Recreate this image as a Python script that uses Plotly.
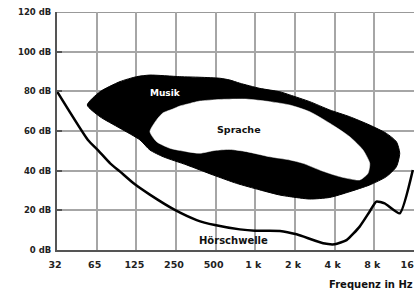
import plotly.graph_objects as go

# Axis ticks (octave index -> label)
x_ticks = [0, 1, 2, 3, 4, 5, 6, 7, 8, 9]
x_labels = ["32", "65", "125", "250", "500", "1 k", "2 k", "4 k", "8 k", "16 k"]
y_ticks = [0, 20, 40, 60, 80, 100, 120]
y_labels = ["0 dB", "20 dB", "40 dB", "60 dB", "80 dB", "100 dB", "120 dB"]

# Hörschwelle (threshold of hearing): octave index, dB
hs_x = [0.0, 0.78, 1.03, 1.34, 1.59, 1.93, 2.34, 2.97, 3.52, 3.98, 4.61, 4.99, 5.62, 6.04, 6.71, 7.0, 7.3, 7.63, 7.88, 8.05, 8.26, 8.64, 8.97]
hs_y = [80.0, 55.5, 50.4, 43.7, 39.5, 33.6, 27.9, 20.2, 15.1, 12.6, 10.4, 9.7, 9.6, 7.9, 3.4, 2.9, 5.0, 11.8, 19.3, 24.4, 23.5, 18.5, 40.3]

# Musik area (outer boundary)
mu_x = [0.763, 1.083, 1.587, 2.008, 2.343, 3.098, 3.602, 4.106, 4.358, 4.610, 5.113, 5.617, 5.869, 6.373, 6.877, 7.380, 7.884, 8.305, 8.557, 8.640, 8.557, 8.305, 7.884, 7.380, 6.877, 6.373, 5.869, 5.617, 5.113, 4.526, 3.937, 3.267, 2.678, 2.343, 2.091, 1.587, 1.083, 0.763]
mu_y = [73.1, 79.8, 84.9, 87.4, 88.2, 87.4, 87.1, 86.6, 85.7, 84.1, 81.5, 79.8, 78.2, 74.8, 70.6, 67.2, 63.0, 58.8, 54.6, 48.8, 42.0, 37.0, 32.8, 29.4, 26.5, 25.7, 26.9, 27.7, 30.3, 33.6, 37.8, 42.9, 47.0, 50.4, 55.5, 61.4, 67.2, 73.1]

# Sprache area (inner boundary)
sp_x = [2.343, 2.511, 2.670, 2.922, 3.098, 3.350, 3.602, 4.106, 4.761, 5.365, 5.869, 6.373, 6.877, 7.380, 7.715, 7.884, 7.841, 7.632, 7.128, 6.625, 6.204, 5.869, 5.365, 4.778, 4.358, 3.980, 3.602, 3.267, 2.846, 2.511, 2.343]
sp_y = [59.7, 65.6, 69.1, 71.1, 72.6, 73.9, 75.1, 75.9, 76.1, 74.8, 73.1, 69.7, 63.9, 57.1, 50.4, 43.7, 38.7, 35.3, 37.0, 40.3, 43.7, 45.4, 47.0, 49.6, 50.7, 50.2, 48.8, 49.6, 51.3, 54.6, 59.7]

FONT = "DejaVu Sans"

fig = go.Figure()
fig.add_trace(go.Scatter(x=mu_x, y=mu_y, mode="lines", fill="toself",
                         fillcolor="black", line=dict(color="black", width=1, shape="spline", smoothing=0.6),
                         hoverinfo="skip", showlegend=False))
fig.add_trace(go.Scatter(x=sp_x, y=sp_y, mode="lines", fill="toself",
                         fillcolor="white", line=dict(color="white", width=0.5, shape="spline", smoothing=0.6),
                         hoverinfo="skip", showlegend=False))
fig.add_trace(go.Scatter(x=hs_x, y=hs_y, mode="lines",
                         line=dict(color="black", width=2.5, shape="spline", smoothing=0.5),
                         hoverinfo="skip", showlegend=False, cliponaxis=False))

fig.add_annotation(x=2.73, y=79.3, text="Musik", showarrow=False,
                   font=dict(family=FONT, size=9, color="white", weight="bold"))
fig.add_annotation(x=4.6, y=60.8, text="Sprache", showarrow=False,
                   font=dict(family=FONT, size=9.5, color="#111", weight="bold"))
fig.add_annotation(x=4.46, y=5.0, text="Hörschwelle", showarrow=False,
                   font=dict(family=FONT, size=10, color="#111", weight="bold"))
fig.add_annotation(xref="paper", yref="paper", x=(327 - 57) / 357, y=-34.5 / 238,
                   xanchor="left", yanchor="middle", text="Frequenz in Hz", showarrow=False,
                   font=dict(family=FONT, size=10, color="#111", weight="bold"))

fig.add_shape(type="line", xref="paper", yref="y", x0=0, x1=1, y0=120, y1=120,
              line=dict(color="#999", width=2), layer="below")

fig.update_xaxes(range=[0, 9.0], tickvals=x_ticks, ticktext=x_labels, automargin=False,
                 showgrid=True, gridcolor="#a6a6a6", gridwidth=1.5,
                 showline=True, linecolor="#555", linewidth=2,
                 ticks="", ticklabelstandoff=5, ticklabelshift=-2, zeroline=False,
                 ticklabeloverflow="allow",
                 tickfont=dict(family=FONT, size=9.5, color="#222", weight="bold"))
fig.update_yaxes(range=[0, 120], tickvals=y_ticks, ticktext=y_labels, automargin=False,
                 showgrid=True, gridcolor="#a6a6a6", gridwidth=1.5,
                 showline=True, linecolor="#555", linewidth=2,
                 ticks="inside", ticklen=5, tickcolor="#555", tickwidth=1.5,
                 ticklabelstandoff=2, zeroline=False, ticklabeloverflow="allow",
                 tickfont=dict(family=FONT, size=8.5, color="#222", weight="bold"))

fig.update_layout(width=414, height=293,
                  margin=dict(l=57, r=0, t=12, b=43),
                  paper_bgcolor="white", plot_bgcolor="white")

# remove the page's default body margin and scrollbars so the figure fills the window
fig.write_html("out.html",
               config={"displayModeBar": False},
               post_script="document.body.style.margin='0';"
                           "document.documentElement.style.overflow='hidden';"
                           "document.body.style.overflow='hidden';")
